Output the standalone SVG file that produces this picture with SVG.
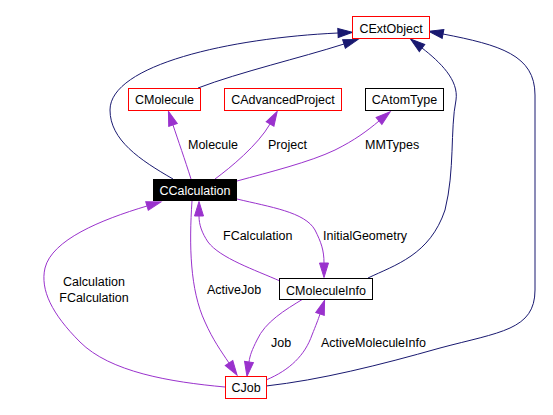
<svg xmlns="http://www.w3.org/2000/svg" width="553" height="415" viewBox="0 0 553 415">
<style>
text{font-family:"Liberation Sans",Arial,sans-serif;font-size:12.5px;fill:#000}
.nt{text-anchor:middle}
.box{fill:#fff;stroke:#000;stroke-width:1}
.red{stroke:#ff0000}
.n{fill:none;stroke:#191970;stroke-width:1}
.p{fill:none;stroke:#9a32cd;stroke-width:1}
</style>
<defs>
<marker id="an" markerUnits="userSpaceOnUse" markerWidth="16" markerHeight="12" refX="0" refY="5" orient="auto" overflow="visible">
<path d="M0,0.5 L14.5,5 L0,9.5 z" fill="#191970" stroke="#191970"/>
</marker>
<marker id="ap" markerUnits="userSpaceOnUse" markerWidth="16" markerHeight="12" refX="0" refY="5" orient="auto" overflow="visible">
<path d="M0,0.5 L14.5,5 L0,9.5 z" fill="#9a32cd" stroke="#9a32cd"/>
</marker>
</defs>
<rect width="553" height="415" fill="#fff"/>
<g id="edges">
<path class="n" marker-end="url(#an)" d="M173,179 C140,160 110,140 110,110 C110,65 230,38 338,33"/>
<path class="n" marker-end="url(#an)" d="M198,88 C240,72 300,58 344,44"/>
<path class="n" marker-end="url(#an)" d="M368,278 C395,265 430,255 445,210 C455,170 450,130 456,100 C459,80 440,62 422,48"/>
<path class="n" marker-end="url(#an)" d="M266,386 C320,380 380,365 440,348 C500,332 535,330 535,290 L535,95 C535,55 500,45 443,34"/>
<path class="p" marker-end="url(#ap)" d="M191,179 C185,160 178,140 173,125"/>
<path class="p" marker-end="url(#ap)" d="M215,179 C230,168 258,145 270,124"/>
<path class="p" marker-end="url(#ap)" d="M237,181 C270,172 310,162 335,150 C355,140 367,131 379,121"/>
<path class="p" marker-end="url(#ap)" d="M237,199 C270,207 305,212 315,230 C321,242 324,250 324,263"/>
<path class="p" marker-end="url(#ap)" d="M280,281 C255,270 220,258 208,242 C202,233 199,225 199,216"/>
<path class="p" marker-end="url(#ap)" d="M192,201 C189,245 190,290 205,322 C213,340 221,351 229,363"/>
<path class="p" marker-end="url(#ap)" d="M225,387 C170,382 110,372 80,342 C52,314 40,290 45,268 C52,240 100,220 147,206"/>
<path class="p" marker-end="url(#ap)" d="M303,299 C285,310 265,322 257,340 C252,350 250,355 249,362"/>
<path class="p" marker-end="url(#ap)" d="M266,380 C290,370 305,355 312,335 C316,325 318,320 320,314"/>
<text x="188" y="149">Molecule</text>
<text x="268" y="149">Project</text>
<text x="365" y="149">MMTypes</text>
<text x="223" y="240">FCalculation</text>
<text x="323" y="240">InitialGeometry</text>
<text x="207" y="294">ActiveJob</text>
<text x="94" y="286" class="nt">Calculation</text>
<text x="94" y="302" class="nt">FCalculation</text>
<text x="271" y="347">Job</text>
<text x="321" y="347">ActiveMoleculeInfo</text>
</g>
<g id="CExtObject"><rect class="box red" x="352.5" y="16.5" width="77" height="22"/><text class="nt" x="391" y="32.5">CExtObject</text></g>
<g id="CMolecule"><rect class="box red" x="128.5" y="88.5" width="72" height="22"/><text class="nt" x="164.5" y="104">CMolecule</text></g>
<g id="CAdvancedProject"><rect class="box red" x="224.5" y="88.5" width="117" height="22"/><text class="nt" x="283" y="104">CAdvancedProject</text></g>
<g id="CAtomType"><rect class="box" x="365.5" y="88.5" width="78" height="22"/><text class="nt" x="404.5" y="104">CAtomType</text></g>
<g id="CCalculation"><rect x="153" y="179" width="84" height="22" fill="#000"/><text class="nt" x="195" y="195" style="fill:#fff">CCalculation</text></g>
<g id="CMoleculeInfo"><rect class="box" x="279.5" y="278.5" width="93" height="21"/><text class="nt" x="326" y="294.5">CMoleculeInfo</text></g>
<g id="CJob"><rect class="box red" x="225.5" y="376.5" width="41" height="22"/><text class="nt" x="246" y="392">CJob</text></g>
</svg>
